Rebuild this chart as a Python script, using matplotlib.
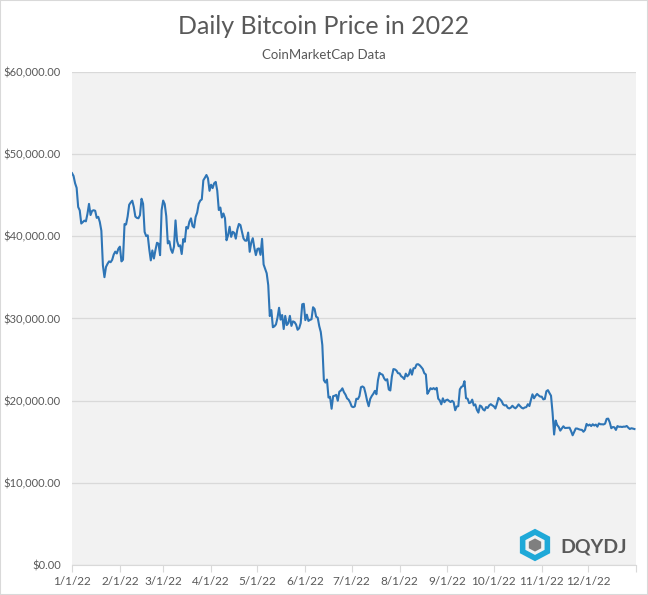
import numpy as np
import pandas as pd
import matplotlib
matplotlib.use('Agg')
import matplotlib.pyplot as plt
from matplotlib.patches import Rectangle, RegularPolygon

plt.rcParams['font.family'] = ['Lato', 'DejaVu Sans']

# daily close, USD (CoinMarketCap), 2022
jan = [47686, 47345, 46458, 45897, 43569, 43160, 41558, 41734, 41911, 41822, 42736, 43949, 42592, 43099, 43177, 43113,
       42250, 42375, 41744, 40680, 36458, 35030, 36276, 36654, 36954, 36852, 37138, 37784, 38138, 37917, 38483]
feb = [38743, 36952, 37154, 41500, 41441, 42412, 43840, 44118, 44339, 43565, 42407, 42244, 42197, 42586, 44575, 43961,
       40538, 40030, 40122, 38431, 37075, 38286, 37296, 38332, 39214, 39105, 37709, 43193]
mar = [44354, 43924, 42451, 39137, 39400, 38420, 37988, 38730, 41941, 39439, 38794, 38904, 37849, 39666, 39338, 41143,
       40951, 41801, 42190, 41247, 41077, 42358, 42892, 43960, 44348, 44500, 46820, 47128, 47465, 47062, 45538]
apr = [46281, 45868, 46453, 46622, 45555, 43206, 43503, 42287, 42782, 42207, 39521, 40127, 41166, 39936, 40552, 40424,
       39716, 40827, 41502, 41374, 40527, 39740, 39478, 39469, 40458, 38117, 39241, 39773, 38609, 37714]
may = [38469, 38529, 37750, 39698, 36575, 36040, 35501, 34059, 30297, 31023, 28936, 29047, 29283, 30102, 31305, 29863,
       30425, 28720, 30315, 29200, 29432, 30323, 29098, 29655, 29562, 29268, 28627, 28814, 29445, 31726, 31792]
jun = [29799, 30467, 29704, 29833, 29907, 31371, 31155, 30215, 30112, 29083, 28360, 26762, 22487, 22206, 22572, 20381,
       20471, 19017, 20553, 20599, 20710, 19987, 21085, 21231, 21502, 21027, 20735, 20281, 20123, 19785]
jul = [19297, 19208, 19297, 20231, 20190, 20548, 21637, 21731, 21592, 20860, 19970, 19323, 20212, 20569, 20836, 21190,
       20779, 22485, 23390, 23231, 23164, 22714, 22465, 22609, 21361, 21239, 22930, 23843, 23804, 23656, 23336]
aug = [23314, 22978, 22846, 22630, 23289, 22961, 23175, 23810, 23164, 23947, 23957, 24403, 24442, 24305, 24094, 23854,
       23342, 23191, 20834, 21140, 21516, 21399, 21529, 21368, 21560, 20241, 20035, 19555, 20285, 19812, 20050]
sep = [20127, 19969, 19833, 19986, 19812, 18837, 19290, 19329, 21381, 21680, 21770, 22370, 20296, 20241, 19701, 19772,
       20127, 19419, 19544, 18890, 18547, 19413, 19297, 18937, 18803, 19222, 19110, 19426, 19573, 19431]
octo = [19312, 19044, 19623, 20336, 20160, 19955, 19546, 19417, 19446, 19141, 19051, 19157, 19382, 19185, 19067, 19268,
        19550, 19334, 19139, 19053, 19172, 19208, 19567, 19345, 20095, 20771, 20285, 20595, 20818, 20635, 20495]
nov = [20485, 20159, 20209, 21147, 21282, 20926, 20602, 18541, 15880, 17586, 17034, 16799, 16353, 16619, 16884, 16669,
       16687, 16697, 16711, 16291, 15787, 16189, 16610, 16604, 16521, 16465, 16444, 16217, 16444, 17168]
dec = [16967, 17088, 16908, 17130, 16974, 17089, 16836, 17224, 17128, 17128, 17104, 17206, 17781, 17815, 17364, 16647,
       16795, 16757, 16439, 16906, 16817, 16830, 16796, 16841, 16832, 16919, 16716, 16552, 16642, 16602, 16547]

price = jan + feb + mar + apr + may + jun + jul + aug + sep + octo + nov + dec
dates = pd.date_range('2022-01-01', periods=len(price), freq='D')

month_starts = pd.date_range('2022-01-01', '2023-01-01', freq='MS')
tick_labels = ['%d/1/22' % m for m in range(1, 13)] + ['']

fig = plt.figure(figsize=(6.48, 5.95), dpi=100)
ax = fig.add_axes([72/648, 30/595, 564/648, 493/595])
ax.set_facecolor('#f2f2f2')

ax.plot(dates, price, color='#2e75b6', lw=1.5)

ax.set_xlim(pd.Timestamp('2022-01-01'), pd.Timestamp('2023-01-01'))
ax.set_ylim(0, 60000)
ax.set_yticks(np.arange(0, 60001, 10000))
ax.yaxis.set_major_formatter(matplotlib.ticker.FuncFormatter(lambda v, p: '${:,.2f}'.format(v)))
ax.set_xticks(month_starts)
ax.set_xticklabels(tick_labels)
ax.grid(axis='y', color='#d9d9d9', lw=0.9)
ax.set_axisbelow(True)
for s in ['top', 'right', 'left']:
    ax.spines[s].set_visible(False)
ax.spines['bottom'].set_color('#d9d9d9')
ax.tick_params(axis='y', length=0, labelsize=8, labelcolor='#595959', pad=8)
ax.tick_params(axis='x', length=5, color='#d9d9d9', labelsize=8.5, labelcolor='#595959', pad=3)

fig.text(0.5, 1 - 27/595, 'Daily Bitcoin Price in 2022', ha='center', va='center', fontsize=18, color='#595959')
fig.text(0.5, 1 - 55/595, 'CoinMarketCap Data', ha='center', va='center', fontsize=9.5, color='#595959')

# DQYDJ logo
fig.add_artist(RegularPolygon((535/648, 1 - 545/595), 6, radius=0.022, orientation=0,
                              transform=fig.transFigure, fill=False, ec='#1fa9d8', lw=4))
fig.add_artist(RegularPolygon((535/648, 1 - 545/595), 6, radius=0.011, orientation=0,
                              transform=fig.transFigure, fc='#7f7f7f', ec='none'))
fig.text(560/648, 1 - 547/595, 'DQYDJ', ha='left', va='center', fontsize=14, fontweight='bold', color='#595959')

fig.add_artist(Rectangle((0, 0), 1, 1, transform=fig.transFigure, fill=False, ec='#d9d9d9', lw=1.5))

plt.savefig('out.png', dpi=100)
